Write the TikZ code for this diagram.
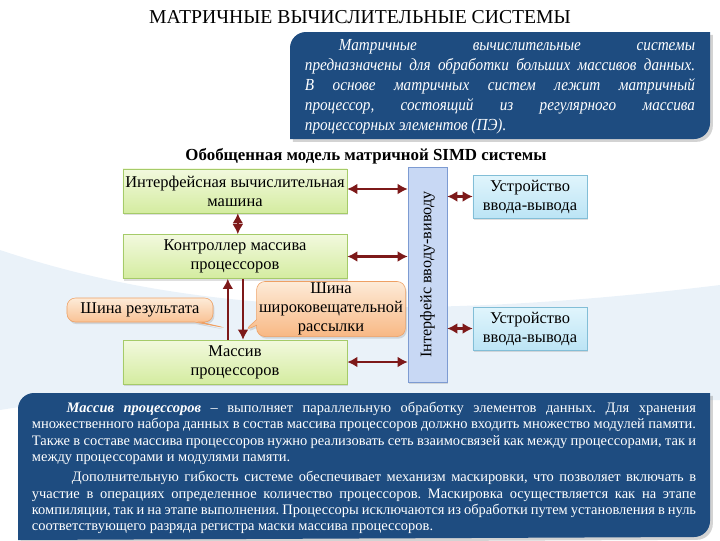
\documentclass[tikz,border=0pt]{standalone}
\usepackage{fontspec}
\setmainfont{Liberation Serif}
\newfontfamily\narrowserif[FakeStretch=0.9]{Liberation Serif}
\usetikzlibrary{arrows.meta,shadows,shapes.callouts}
\definecolor{panelblue}{RGB}{30,76,128}
\definecolor{arrowred}{RGB}{125,25,25}
\definecolor{greentop}{RGB}{242,249,222}
\definecolor{greenbot}{RGB}{212,236,160}
\definecolor{greenline}{RGB}{165,203,105}
\definecolor{devtop}{RGB}{224,245,252}
\definecolor{devbot}{RGB}{188,228,245}
\definecolor{devline}{RGB}{130,190,215}
\definecolor{barfill}{RGB}{200,216,244}
\definecolor{barline}{RGB}{125,155,210}
\definecolor{notetop}{RGB}{253,235,216}
\definecolor{notebot}{RGB}{248,184,132}
\definecolor{noteline}{RGB}{238,160,100}
\definecolor{haze}{RGB}{234,242,249}
\newcommand\boxfont{\fontsize{11.7}{13.5}\selectfont}
\newcommand\panelfont{\fontsize{10.3}{11.7}\selectfont}
\frenchspacing

\begin{document}
\begin{tikzpicture}[x=0.025cm,y=-0.025cm,
    unit/.style={draw=greenline,top color=greentop,bottom color=greenbot,minimum width=5.6cm,minimum height=1.1cm,inner xsep=1pt,align=center,font=\boxfont,drop shadow={opacity=0.25,shadow xshift=1pt,shadow yshift=-1.5pt}},
    device/.style={draw=devline,top color=devtop,bottom color=devbot,minimum width=2.85cm,minimum height=0.925cm,align=center,font=\boxfont,drop shadow={opacity=0.25,shadow xshift=1pt,shadow yshift=-1.5pt}},
    note/.style={rectangle callout,rounded corners=6pt,draw=noteline,top color=notetop,bottom color=notebot,align=center,font=\boxfont,inner sep=1pt,callout pointer width=4pt,drop shadow={opacity=0.25,shadow xshift=1pt,shadow yshift=-1.5pt}},
    panel/.style={fill=panelblue,drop shadow={opacity=0.35,shadow xshift=2pt,shadow yshift=-2pt}},
    link/.style={arrowred,line width=1.5pt,{Latex[length=2.5mm,width=2.7mm]}-{Latex[length=2.5mm,width=2.7mm]}},
    oneway/.style={arrowred,line width=1.5pt,-{Latex[length=2.5mm,width=2.7mm]}}]
  \useasboundingbox (0,0) rectangle (720,540);
  \fill[haze] (0,250) .. controls (150,300) and (350,330) .. (720,285) -- (720,400) .. controls (400,405) and (150,385) .. (0,410) -- cycle;

  \node (title) at (360,17) {\fontsize{14}{16}\selectfont МАТРИЧНЫЕ ВЫЧИСЛИТЕЛЬНЫЕ СИСТЕМЫ};

  % top panel
  \fill[panel] (290,139) -- (290,48) arc[start angle=180,end angle=270,radius=16] -- (710,32) -- (710,123) arc[start angle=0,end angle=90,radius=16] -- cycle;
  \node (intro) at (500,87) [text width=9.75cm,align=justify,text=white,font=\narrowserif\itshape\fontsize{12}{14.2}\selectfont]
    {\hspace*{0.85cm}Матричные вычислительные системы\linebreak
     предназначены для обработки больших массивов данных.\linebreak
     В основе матричных систем лежит матричный\linebreak
     процессор, состоящий из регулярного массива\linebreak
     процессорных элементов (ПЭ).};

  \node (caption) at (366,156) {\fontsize{12}{14}\selectfont\bfseries Обобщенная модель матричной SIMD системы};

  \node (imach) at (235,191) [unit] {Интерфейсная вычислительная\\машина}; % host
  \node (ctrl) at (235,256.5) [unit] {Контроллер массива\\процессоров};
  \node (pe) at (235,362) [unit] {Массив\\процессоров};
  \node (iface) at (427.5,274.5) [draw=barline,fill=barfill,rotate=90,minimum width=5.375cm,minimum height=0.975cm,font=\fontsize{11.5}{13}\selectfont,drop shadow={opacity=0.25,shadow xshift=1pt,shadow yshift=-1.5pt}] {Інтерфейс вводу-виводу};
  \node (dev1) at (530,196.5) [device] {Устройство\\ввода-вывода};
  \node (dev2) at (530,328.5) [device] {Устройство\\ввода-вывода};

  \draw[link] ([yshift=0.05cm]imach.east) -- ([yshift=0.05cm]imach.east -| iface.north);
  \draw[link] (ctrl.east) -- (ctrl.east -| iface.north);
  \draw[link] (pe.east) -- (pe.east -| iface.north);
  \draw[link] (dev1.west -| iface.south) -- (dev1.west);
  \draw[link] (dev2.west -| iface.south) -- (dev2.west);
  \draw[link] ([xshift=0.07cm]imach.south) -- ([xshift=0.07cm]ctrl.north);
  \draw[oneway] ([xshift=-0.18cm]pe.north) -- ([xshift=-0.18cm]ctrl.south);
  \draw[oneway] ([xshift=0.2cm]ctrl.south) -- ([xshift=0.2cm]pe.north);

  \node (resbus) at (140,310) [note,minimum width=3.65cm,minimum height=0.6cm,callout absolute pointer={(226,328)}] {Шина результата};
  \node (bcast) at (331,309) [note,minimum width=3.72cm,minimum height=1.35cm,callout absolute pointer={(244,331)}] {Шина\\широковещательной\\рассылки};

  % bottom panel
  \fill[panel] (18,540) -- (18,409) arc[start angle=180,end angle=270,radius=16] -- (710,393) -- (710,521) arc[start angle=0,end angle=90,radius=16] -- cycle;
  \node (array) at (364,468) [text width=16.6cm,align=justify,text=white,font=\panelfont]
    {\hspace*{0.87cm}\textbf{\textit{Массив процессоров}} – выполняет параллельную обработку элементов данных. Для хранения\linebreak
     множественного набора данных в состав массива процессоров должно входить множество модулей памяти.\linebreak
     Также в составе массива процессоров нужно реализовать сеть взаимосвязей как между процессорами, так и\linebreak
     между процессорами и модулями памяти.\par\vspace{2.5pt}
     \hspace*{1cm}Дополнительную гибкость системе обеспечивает механизм маскировки, что позволяет включать в\linebreak
     участие в операциях определенное количество процессоров. Маскировка осуществляется как на этапе\linebreak
     компиляции, так и на этапе выполнения. Процессоры исключаются из обработки путем установления в нуль\linebreak
     соответствующего разряда регистра маски массива процессоров.};
\end{tikzpicture}
\end{document}
